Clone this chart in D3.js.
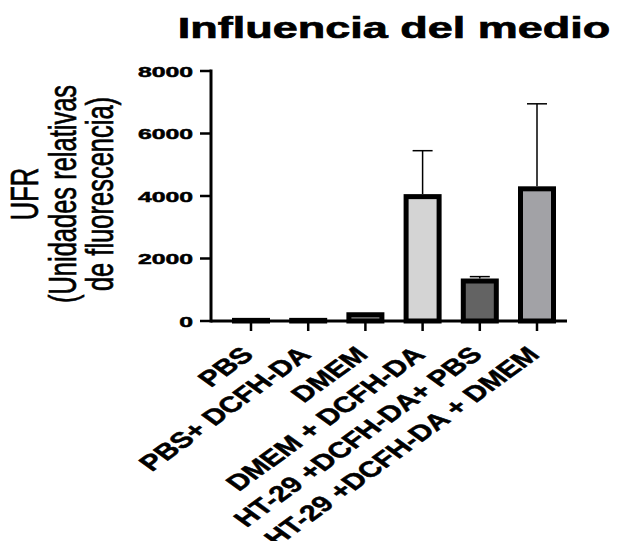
<!DOCTYPE html>
<html>
<head>
<meta charset="utf-8">
<script src="https://cdn.jsdelivr.net/npm/d3@7"></script>
<style>
  html, body { margin: 0; padding: 0; background: #fff; }
  svg { display: block; }
  text { font-family: "Liberation Sans", Arial, sans-serif; }
</style>
</head>
<body>
<svg id="chart" width="617" height="541"></svg>
<script>
// ---- data ----
const categories = ["PBS", "PBS+ DCFH-DA", "DMEM", "DMEM + DCFH-DA", "HT-29 +DCFH-DA+ PBS", "HT-29 +DCFH-DA + DMEM"];
const means = [20, 20, 200, 3980, 1280, 4230];
const errorsUp = [0, 0, 0, 5450, 1420, 6950];   // top of upper error bar (0 = none)
const fills = ["#f0f0f0", "#f0f0f0", "#8a8a8a", "#d4d4d4", "#636363", "#a2a2a6"];
const yTicks = [0, 2000, 4000, 6000, 8000];
const titleText = "Influencia del medio";
const yTitleLines = ["UFR", "(Unidades relativas", "de fluorescencia)"];

// ---- layout ----
const svg = d3.select("#chart");
const axisX = 211, x0 = 251, x1 = 537, xEnd = 567;
const yBottom = 321, yTop = 71;

const x = d3.scalePoint().domain(categories).range([x0, x1]);
const y = d3.scaleLinear().domain([0, 8000]).range([yBottom, yTop]);

// title
svg.append("text")
  .attr("transform", `translate(394,38) scale(1.5,1)`)
  .attr("text-anchor", "middle")
  .attr("font-size", 30).attr("font-weight", "bold")
  .attr("stroke", "#000").attr("stroke-width", 0.7)
  .text(titleText);

// y title
const yt = svg.append("g").attr("transform", `translate(0,194)`);
yTitleLines.forEach((t, i) => {
  yt.append("text")
    .attr("transform", `translate(${38 + i * 37.5},0) scale(1.5,1) rotate(-90)`)
    .attr("text-anchor", "middle")
    .attr("font-size", 25.5)
    .attr("stroke", "#000").attr("stroke-width", 0.45)
    .text(t);
});

// bars
const bw = 33;
svg.append("g").selectAll("rect")
  .data(categories)
  .join("rect")
  .attr("x", d => x(d) - bw / 2)
  .attr("y", (d, i) => y(means[i]))
  .attr("width", bw)
  .attr("height", (d, i) => y(0) - y(means[i]))
  .attr("fill", (d, i) => fills[i])
  .attr("stroke", "#000")
  .attr("stroke-width", 5);

// error bars
const eg = svg.append("g").attr("stroke", "#000").attr("stroke-width", 1.5);
categories.forEach((c, i) => {
  if (!errorsUp[i]) return;
  eg.append("line").attr("x1", x(c)).attr("x2", x(c))
    .attr("y1", y(means[i]) - 2.5).attr("y2", y(errorsUp[i]));
  eg.append("line").attr("x1", x(c) - 10).attr("x2", x(c) + 10)
    .attr("y1", y(errorsUp[i])).attr("y2", y(errorsUp[i]));
});

// y axis
const ya = svg.append("g");
ya.append("line").attr("x1", axisX).attr("x2", axisX)
  .attr("y1", y(8000) - 1.5).attr("y2", yBottom + 1.5)
  .attr("stroke", "#000").attr("stroke-width", 3);
yTicks.forEach(v => {
  ya.append("line").attr("x1", axisX - 11).attr("x2", axisX)
    .attr("y1", y(v)).attr("y2", y(v))
    .attr("stroke", "#000").attr("stroke-width", 2.5);
  ya.append("text")
    .attr("transform", `translate(193,${y(v) + 5.5}) scale(1.6,1)`)
    .attr("text-anchor", "end")
    .attr("font-size", 15.5).attr("font-weight", "bold")
    .attr("stroke", "#000").attr("stroke-width", 0.5)
    .text(v);
});

// x axis
const xa = svg.append("g");
xa.append("line").attr("x1", axisX).attr("x2", xEnd)
  .attr("y1", yBottom).attr("y2", yBottom)
  .attr("stroke", "#000").attr("stroke-width", 3);
categories.forEach(c => {
  xa.append("line").attr("x1", x(c)).attr("x2", x(c))
    .attr("y1", yBottom).attr("y2", yBottom + 10)
    .attr("stroke", "#000").attr("stroke-width", 2.5);
  xa.append("text")
    .attr("transform", `translate(${x(c) + 4},${yBottom + 35}) scale(1.38,1) rotate(-45)`)
    .attr("text-anchor", "end")
    .attr("font-size", 22).attr("font-weight", "bold")
    .attr("stroke", "#000").attr("stroke-width", 0.5)
    .text(c);
});
</script>
</body>
</html>
